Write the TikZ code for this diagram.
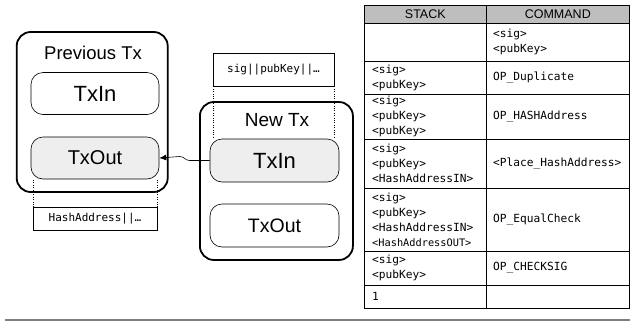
\documentclass[tikz,border=0pt]{standalone}
\usepackage{fontspec}
\setsansfont{Liberation Sans}
\setmonofont{DejaVu Sans Mono}
\usetikzlibrary{arrows.meta}

\definecolor{partfill}{HTML}{EEEEEE}
\definecolor{headfill}{HTML}{BEBEBE}

\tikzset{
  txbox/.style={draw, line width=1.8pt, rounded corners=14pt, minimum width=151pt, minimum height=160pt, inner sep=0pt},
  txtitle/.style={inner sep=0pt, font=\sffamily\fontsize{18.5}{20}\selectfont},
  partbox/.style={draw, line width=0.6pt, rounded corners=12pt, minimum width=128pt, minimum height=42pt, inner sep=0pt},
  databox/.style={draw, line width=0.6pt, minimum height=23pt, inner sep=0pt, font=\ttfamily\fontsize{11}{14}\selectfont},
  celltext/.style={anchor=west, align=left, inner sep=0pt, font=\ttfamily\fontsize{11.2}{15}\selectfont},
  headtext/.style={inner sep=0pt, font=\sffamily\fontsize{12.5}{14}\selectfont},
  link/.style={-{Latex[length=7pt,width=6pt]}, line width=0.6pt},
}

\begin{document}
\begin{tikzpicture}[x=1pt, y=-1pt]
        \useasboundingbox (0,0) rectangle (630,322);

        % Previous transaction
        \node[txbox] (prevtx) at (92.2,112) {};
        \node[txtitle] (prevtitle) at (93,53) {Previous Tx};
        \node[partbox, font=\sffamily\fontsize{22}{24}\selectfont] (previn) at (95,93.5) {TxIn};
        \node[partbox, fill=partfill, font=\sffamily\fontsize{20}{24}\selectfont] (prevout) at (95,158) {TxOut};
        \node[databox, minimum width=124pt] (hashbox) at (95,218.5) {HashAddress||…};
        \draw[dotted] (hashbox.north west) -- (hashbox.north west |- prevout.south);
        \draw[dotted] (hashbox.north east) -- (hashbox.north east |- prevout.south);

        % New transaction
        \node[databox, minimum width=121pt, minimum height=33pt] (sigbox) at (273.5,69.5) {sig||pubKey||…};
        \node[txbox, minimum width=153pt, minimum height=158pt] (newtx) at (276.4,181) {};
        \node[txtitle, font=\sffamily\fontsize{19}{20}\selectfont] (newtitle) at (277,120) {New Tx};
        \node[partbox, fill=partfill, minimum width=129pt, minimum height=43pt, font=\sffamily\fontsize{22}{24}\selectfont] (newin) at (274.5,160.5) {TxIn};
        \node[partbox, minimum width=129pt, minimum height=43pt, font=\sffamily\fontsize{19.5}{24}\selectfont] (newout) at (274.5,225.5) {TxOut};
        \draw[dotted] (sigbox.south west) -- (sigbox.south west |- newin.north);
        \draw[dotted] (sigbox.south east) -- (sigbox.south east |- newin.north);

        % Input points back to the spent output
        \draw[link] (newin.west) -- ++(-20,0)
            .. controls +(-5,0) and +(5,0) .. ++(-10,-4) -- (prevout.east);

        % Script table
        \fill[headfill] (364.7,5) rectangle (629.5,23);
        \foreach \y in {23,61,94,139,188,251,285}
            \draw[line width=0.8pt] (364.7,\y) -- (629.5,\y);
        \draw[line width=0.8pt] (486,5) -- (486,308);
        \draw[line width=1pt] (364.7,5) rectangle (629.5,308);

        \node[headtext] (stackhead) at (425.3,14) {STACK};
        \node[headtext] (cmdhead) at (557.8,14) {COMMAND};

        \node[celltext] (cmd1) at (493,42) {<sig>\\<pubKey>};
        \node[celltext] (stack2) at (372,77.5) {<sig>\\<pubKey>};
        \node[celltext] (cmd2) at (493,77.5) {OP\_Duplicate};
        \node[celltext] (stack3) at (372,116.5) {<sig>\\<pubKey>\\<pubKey>};
        \node[celltext] (cmd3) at (493,116.5) {OP\_HASHAddress};
        \node[celltext] (stack4) at (372,163.5) {<sig>\\<pubKey>\\<HashAddressIN>};
        \node[celltext] (cmd4) at (493,163.5) {<Place\_HashAddress>};
        \node[celltext] (stack5) at (372,219.5) {<sig>\\<pubKey>\\<HashAddressIN>\\{\fontsize{10.3}{15}\selectfont <HashAddressOUT>}};
        \node[celltext] (cmd5) at (493,219.5) {OP\_EqualCheck};
        \node[celltext] (stack6) at (372,268) {<sig>\\<pubKey>};
        \node[celltext] (cmd6) at (493,268) {OP\_CHECKSIG};
        \node[celltext] (stack7) at (372,296.5) {1};

        % Rule under the figure
        \draw[gray, line width=1.2pt] (5,320) -- (630,320);
\end{tikzpicture}
\end{document}
